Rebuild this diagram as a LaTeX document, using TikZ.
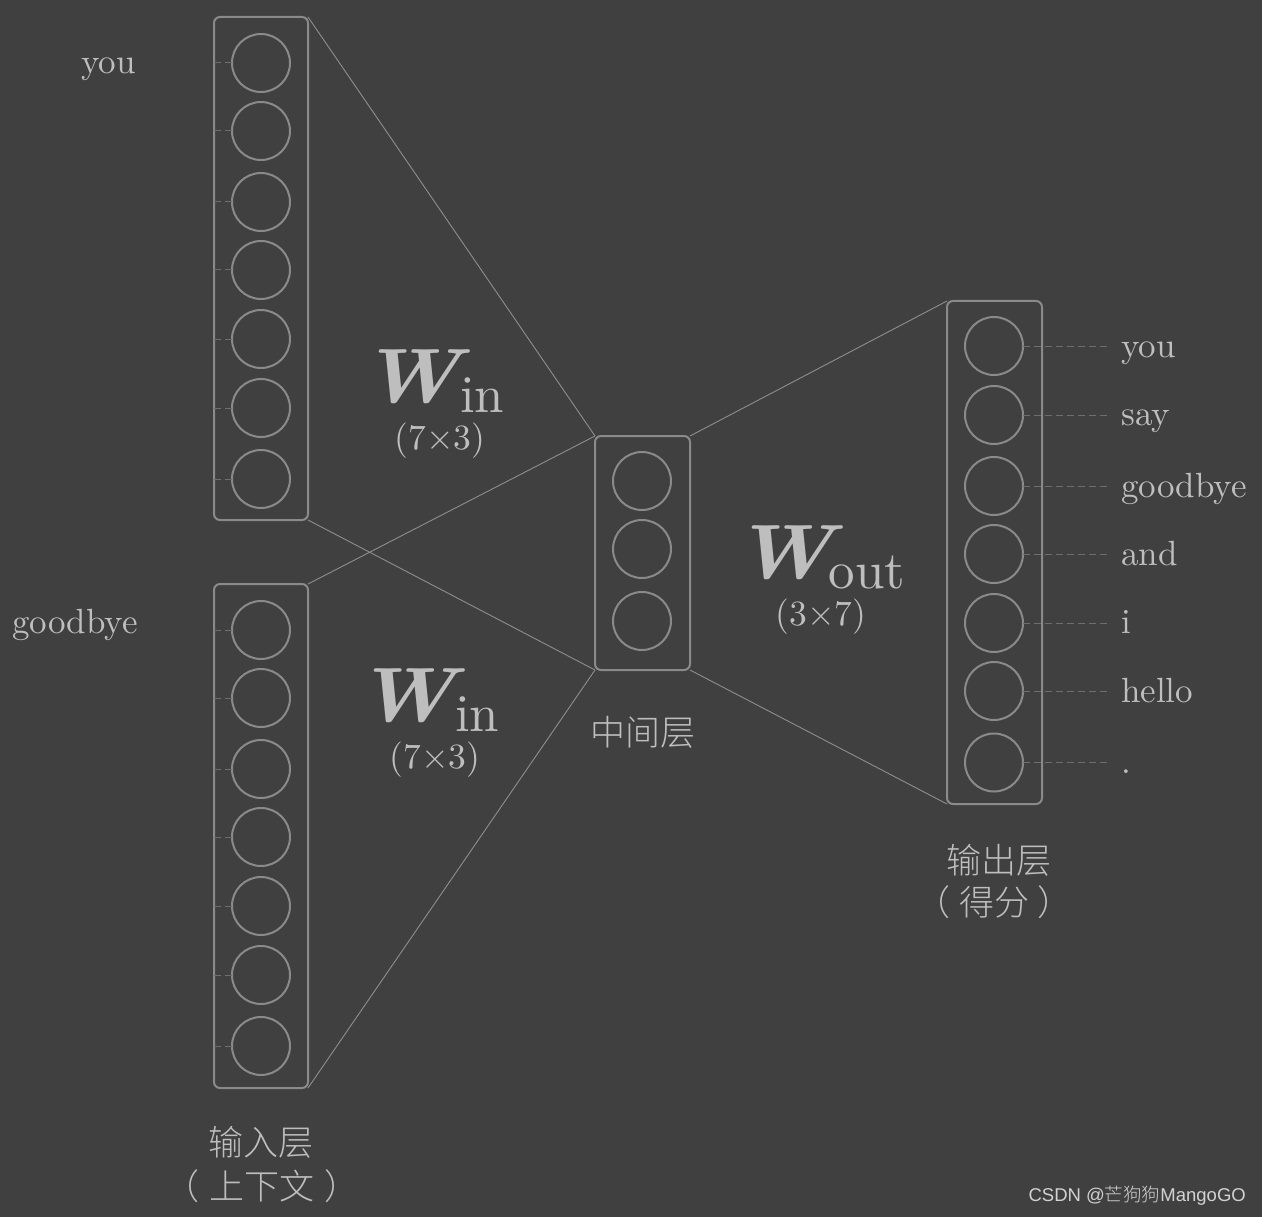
\documentclass[tikz,border=0pt]{standalone}
\usepackage{fontspec}
\setmainfont{lmroman10-regular}[Extension=.otf, BoldFont=lmroman10-bold, ItalicFont=lmroman10-italic, BoldItalicFont=lmroman10-bolditalic]
\IfFontExistsTF{Noto Sans CJK SC Light}{\newfontfamily\cjk{Noto Sans CJK SC Light}}{\newfontfamily\cjk{Noto Sans CJK SC}}
\newfontfamily\wsans{Liberation Sans}
\definecolor{bg}{HTML}{404040}
\definecolor{ln}{HTML}{8A8A8A}
\definecolor{lk}{HTML}{8E8E8E}
\definecolor{tx}{HTML}{BEBEBE}
\definecolor{dsh}{HTML}{6E6E6E}
\definecolor{wm}{HTML}{D2D2D2}
\newcommand{\bigW}{\scalebox{1.12}[1]{\bfseries\itshape W}}
\begin{document}
\begin{tikzpicture}[x=1pt,y=-1pt,
  layerbox/.style={draw=ln, line width=2pt, rounded corners=6pt, inner sep=0pt, outer sep=0pt, minimum width=94pt},
  unit/.style={circle, draw=ln, line width=2pt, minimum size=58pt, inner sep=0pt, outer sep=0pt},
  link/.style={draw=lk, line width=0.9pt},
  dashlink/.style={draw=dsh, line width=1pt, dash pattern=on 7pt off 4pt},
  word/.style={text=tx, font=\fontsize{35}{40}\selectfont, inner sep=0pt},
  wlab/.style={text=tx, font=\fontsize{77}{80}\selectfont, inner sep=0pt, anchor=base west},
  sublab/.style={text=tx, font=\fontsize{53}{60}\selectfont, inner sep=0pt, anchor=base west},
  dimlab/.style={text=tx, font=\fontsize{35.5}{40}\selectfont, inner sep=0pt, anchor=base},
  cjklab/.style={text=tx, font=\cjk\fontsize{35}{40}\selectfont, inner sep=0pt}]
\fill[bg] (0,0) rectangle (1262,1217);
\useasboundingbox (0,0) rectangle (1262,1217);

% boxes
\node[layerbox, minimum height=503pt] (tbox) at (261,268.5) {};
\node[layerbox, minimum height=504pt] (bbox) at (261,836) {};
\node[layerbox, minimum width=95pt, minimum height=234pt] (mbox) at (642.5,553) {};
\node[layerbox, minimum width=95pt, minimum height=503pt] (obox) at (994.5,552.5) {};

% units
\foreach \i/\y in {1/63,2/131,3/202,4/270,5/339,6/408,7/479}{
  \node[unit] (t\i) at (261,\y) {};
  \draw[dashlink] (t\i.west) -- ++(-21,0);
}
\foreach \i/\y in {1/630,2/698,3/769,4/837,5/906,6/975,7/1046}{
  \node[unit] (b\i) at (261,\y) {};
  \draw[dashlink] (b\i.west) -- ++(-21,0);
}
\foreach \i/\y in {1/481,2/549,3/621}{
  \node[unit] (m\i) at (642,\y) {};
}
\foreach \i/\y in {1/346,2/415,3/486,4/554,5/623,6/691,7/762.5}{
  \node[unit] (o\i) at (994,\y) {};
  \draw[dashlink] (o\i.east) -- ++(85,0);
}

% links
\draw[link] (tbox.north east) -- (mbox.north west);
\draw[link] (tbox.south east) -- (mbox.south west);
\draw[link] (bbox.north east) -- (mbox.north west);
\draw[link] (bbox.south east) -- (mbox.south west);
\draw[link] (mbox.north east) -- (obox.north west);
\draw[link] (mbox.south east) -- (obox.south west);

% input words
\node[word, anchor=base east] (inyou) at (136,74) {you};
\node[word, anchor=base east] (ingood) at (138,633) {goodbye};

% output words
\node[word, anchor=base west] (w1) at (1121,357) {you};
\node[word, anchor=base west] (w2) at (1121,425) {say};
\node[word, anchor=base west] (w3) at (1121,497) {goodbye};
\node[word, anchor=base west] (w4) at (1121,565) {and};
\node[word, anchor=base west] (w5) at (1121,633) {i};
\node[word, anchor=base west] (w6) at (1121,702) {hello};
\node[word, anchor=base west] (w7) at (1121,773) {.};

% weight labels
\node[wlab] (win1) at (360.5,402) {\bigW};
\node[sublab] (sin1) at (460,412.3) {in};
\node[dimlab] (din1) at (440,449) {(7×3)};
\node[wlab] (win2) at (355.5,721) {\bigW};
\node[sublab] (sin2) at (455,731.3) {in};
\node[dimlab] (din2) at (435,768) {(7×3)};
\node[wlab] (wout) at (733,578) {\bigW};
\node[sublab] (sout) at (828.5,588.3) {out};
\node[dimlab] (dout) at (821,625) {(3×7)};

% layer names
\node[cjklab] (lmid) at (643,732) {中间层};
\node[cjklab] (lin1) at (261,1142) {输入层};
\node[cjklab] (lin2) at (262,1186) {（\kern10pt 上下文\kern10pt ）};
\node[cjklab] (lout1) at (999,860) {输出层};
\node[cjklab] (lout2) at (994,902) {（\kern9pt 得分\kern9pt ）};

% watermark
\node[text=wm, inner sep=0pt, anchor=east, font=\fontsize{18.5}{20}\selectfont] (wmark) at (1246,1196) {\wsans CSDN @{\cjk 芒狗狗}MangoGO};
\end{tikzpicture}
\end{document}
